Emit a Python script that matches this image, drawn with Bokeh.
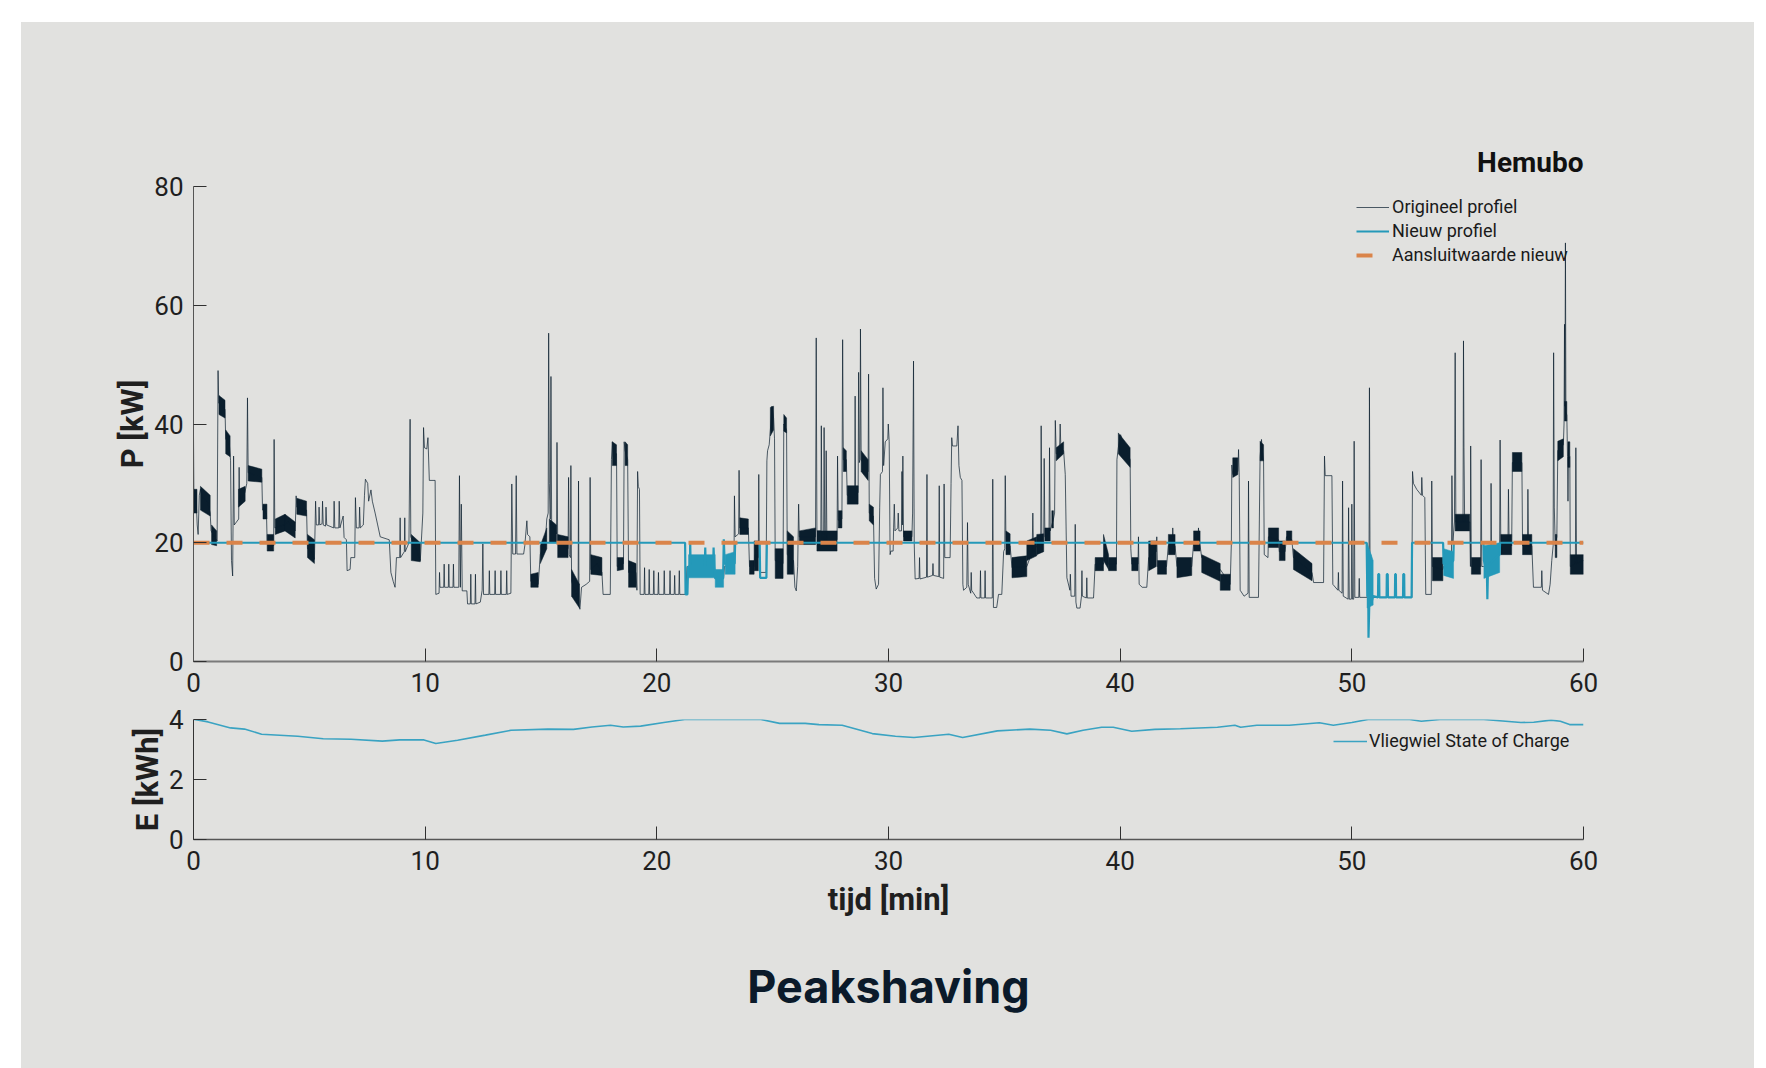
from bokeh.plotting import figure
from bokeh.models import Range1d, FixedTicker, Legend, LegendItem, Title
from bokeh.layouts import column
from bokeh.embed import file_html
from bokeh.resources import INLINE

# ---------------- data ----------------
x_ticks = [0, 10, 20, 30, 40, 50, 60]
p_ticks = [0, 20, 40, 60, 80]
e_ticks = [0, 2, 4]

# Original profile (t [min], P [kW])
orig_q1 = [
    (0.00, 38.0), (0.02, 26.0), (0.10, 28.5), (0.16, 23.0), (0.20, 21.4), (0.25, 28.0), (0.30, 29.0),
    (0.40, 27.5), (0.60, 27.0), (0.72, 25.0), (0.76, 22.0), (0.90, 21.0), (1.02, 20.3), (1.06, 49.0),
    (1.09, 43.5), (1.36, 42.5), (1.39, 37.5), (1.55, 36.5), (1.60, 33.8), (1.64, 17.0), (1.69, 14.4),
    (1.73, 34.6), (1.76, 23.0), (1.95, 24.0), (1.97, 32.7), (1.99, 27.0), (2.22, 28.5), (2.30, 30.0),
    (2.33, 44.4), (2.36, 31.8), (2.95, 31.0), (2.98, 25.5), (3.15, 25.0), (3.18, 20.0), (3.46, 19.5),
    (3.48, 37.4), (3.51, 22.5), (3.90, 23.0), (4.10, 23.5), (4.39, 22.0), (4.43, 27.9), (4.46, 26.0),
    (4.88, 25.5), (4.92, 19.0), (5.10, 18.5), (5.22, 17.2), (5.25, 23.0), (5.27, 27.0), (5.30, 23.0),
    (5.40, 23.0), (5.42, 26.0), (5.45, 23.0), (5.55, 23.2), (5.57, 27.0), (5.60, 23.0), (5.70, 22.8),
    (5.72, 26.0), (5.75, 23.0), (6.05, 22.5), (6.07, 27.0), (6.10, 22.5), (6.27, 22.5), (6.29, 27.0),
    (6.32, 22.5), (6.46, 24.5), (6.50, 20.9), (6.60, 20.5), (6.63, 15.3), (6.76, 15.5), (6.79, 17.5),
    (6.96, 17.5), (6.99, 27.6), (7.03, 22.5), (7.15, 22.5), (7.17, 26.0), (7.20, 22.5), (7.33, 23.0),
    (7.38, 28.0), (7.42, 30.7), (7.52, 30.0), (7.56, 27.0), (7.66, 28.9), (7.72, 27.0), (7.84, 25.0),
    (7.95, 23.0), (8.06, 21.0), (8.45, 20.5), (8.52, 15.0), (8.62, 13.5), (8.70, 12.5), (8.76, 17.5),
    (8.90, 17.5), (8.92, 24.2), (8.94, 17.5), (9.10, 18.5), (9.12, 24.2), (9.14, 18.5), (9.30, 20.0),
    (9.35, 40.8), (9.38, 21.0), (9.60, 19.0), (9.79, 17.0), (9.90, 25.0), (9.93, 39.4), (9.97, 36.0),
    (10.07, 35.8), (10.12, 37.7), (10.18, 30.5), (10.43, 30.5), (10.46, 11.3), (10.60, 11.5),
    (10.62, 15.0), (10.64, 12.5), (10.80, 12.5), (10.82, 16.4), (10.84, 12.5), (11.00, 12.5),
    (11.02, 16.4), (11.04, 12.5), (11.20, 12.5), (11.22, 16.4), (11.24, 12.5), (11.45, 12.5),
    (11.48, 31.3), (11.52, 12.5), (11.56, 26.5), (11.60, 11.9), (11.80, 11.9), (11.83, 9.7),
    (11.95, 9.7), (11.97, 14.7), (11.99, 9.7), (12.15, 9.7), (12.17, 14.7), (12.19, 9.7),
    (12.38, 10.0), (12.46, 12.0), (12.49, 19.8), (12.52, 11.3), (12.75, 11.3), (12.77, 15.3),
    (12.79, 11.3), (13.00, 11.3), (13.02, 15.3), (13.04, 11.3), (13.25, 11.3), (13.27, 15.3),
    (13.29, 11.3), (13.50, 11.3), (13.52, 15.3), (13.54, 11.3), (13.70, 11.5), (13.74, 29.9),
    (13.78, 18.1), (13.90, 18.1), (13.93, 31.3), (13.96, 18.1), (14.25, 18.1), (14.30, 19.5),
    (14.39, 23.7), (14.42, 21.4), (14.52, 21.0), (14.56, 13.5), (14.88, 13.0), (14.97, 18.0),
    (15.10, 19.5), (15.20, 21.0),
]
orig_q2 = [
    (15.25, 24.0), (15.31, 25.0), (15.33, 55.3), (15.36, 30.0), (15.40, 24.0), (15.43, 48.0),
    (15.46, 23.0), (15.67, 21.5), (15.69, 36.9), (15.72, 20.0), (16.17, 19.0), (16.19, 31.0),
    (16.22, 18.0), (16.27, 17.5), (16.29, 33.0), (16.32, 13.5), (16.50, 11.5), (16.60, 10.0),
    (16.62, 30.4), (16.64, 9.5), (16.68, 8.8), (16.75, 12.5), (16.95, 13.0), (17.10, 13.5),
    (17.12, 31.0), (17.15, 15.5), (17.40, 16.5), (17.63, 15.0), (17.68, 11.3), (17.99, 11.3),
    (18.04, 34.0), (18.08, 37.0), (18.12, 34.5), (18.26, 35.0), (18.29, 16.0), (18.56, 16.5),
    (18.59, 37.0), (18.63, 35.5), (18.74, 34.0), (18.78, 15.0), (19.10, 15.0), (19.14, 12.0),
    (19.17, 32.0), (19.20, 29.5), (19.25, 29.0), (19.28, 11.3), (19.45, 11.3), (19.47, 15.8),
    (19.49, 11.3), (19.65, 11.3), (19.67, 15.5), (19.69, 11.3), (19.85, 11.3), (19.87, 15.3),
    (19.89, 11.3), (20.05, 11.3), (20.07, 15.0), (20.09, 11.3), (20.30, 11.3), (20.32, 15.3),
    (20.34, 11.3), (20.55, 11.3), (20.57, 15.3), (20.59, 11.3), (20.75, 11.3), (20.77, 14.5),
    (20.79, 11.3), (20.95, 11.3), (20.97, 15.3), (20.99, 11.3), (21.25, 11.3), (21.30, 16.0),
    (22.48, 16.0), (22.52, 14.0), (22.88, 14.0), (22.92, 16.0), (23.33, 16.5), (23.35, 27.9),
    (23.38, 21.0), (23.53, 21.5), (23.55, 32.2), (23.58, 22.5), (23.95, 22.5), (24.00, 16.0),
    (24.20, 16.0), (24.25, 18.0), (24.38, 17.5), (24.40, 31.5), (24.43, 15.0), (24.72, 15.0),
    (24.75, 33.8), (24.78, 35.5), (24.85, 36.5), (24.92, 40.0), (24.97, 43.0), (25.04, 41.0),
    (25.08, 37.5), (25.11, 17.0), (25.45, 16.5), (25.48, 40.0), (25.60, 39.0), (25.63, 18.0),
    (25.90, 17.0), (25.96, 12.5), (26.02, 11.9), (26.08, 16.0), (26.12, 26.5), (26.15, 21.0),
    (26.85, 21.0), (26.88, 54.5), (26.91, 22.0), (27.08, 22.0), (27.10, 39.7), (27.13, 20.5),
    (27.20, 20.5), (27.22, 39.4), (27.25, 20.5), (27.29, 20.5), (27.31, 35.5), (27.34, 20.5),
    (27.78, 20.5), (27.80, 34.6), (27.83, 23.8), (27.99, 24.0), (28.02, 54.2), (28.05, 34.0),
    (28.18, 34.0), (28.22, 28.0), (28.54, 27.5), (28.56, 44.7), (28.58, 28.0), (28.69, 28.5),
    (28.71, 48.7), (28.74, 33.5), (28.77, 34.0), (28.79, 56.0), (28.82, 34.0), (29.12, 32.0),
    (29.14, 48.4), (29.17, 25.0), (29.35, 24.5), (29.40, 14.0), (29.47, 12.2), (29.57, 13.0),
    (29.62, 26.0), (29.65, 31.5), (29.74, 32.0), (29.76, 46.1), (29.79, 33.0), (29.86, 37.0),
    (29.97, 37.5), (29.99, 40.0), (30.03, 37.0), (30.07, 18.0),
]
orig_q3 = [
    (30.10, 18.6), (30.20, 18.6), (30.22, 22.5), (30.25, 26.5), (30.28, 22.0), (30.40, 22.5),
    (30.42, 25.0), (30.45, 22.0), (30.56, 22.0), (30.58, 32.0), (30.60, 23.0), (30.62, 34.6),
    (30.65, 21.0), (31.01, 21.0), (31.04, 25.0), (31.08, 50.6), (31.11, 20.0), (31.15, 13.9),
    (31.32, 14.0), (31.34, 17.5), (31.36, 13.9), (31.64, 14.2), (31.66, 31.5), (31.68, 14.2),
    (31.90, 14.5), (31.92, 16.5), (31.94, 14.5), (32.17, 14.3), (32.19, 29.6), (32.21, 14.2),
    (32.38, 14.0), (32.40, 29.9), (32.43, 17.5), (32.66, 17.5), (32.70, 30.0), (32.73, 37.7),
    (32.76, 36.3), (32.95, 36.3), (33.00, 39.7), (33.04, 33.0), (33.10, 31.0), (33.17, 30.5),
    (33.21, 13.0), (33.24, 12.0), (33.38, 12.5), (33.41, 23.4), (33.44, 13.0), (33.55, 11.5),
    (33.57, 15.0), (33.59, 12.0), (33.81, 10.7), (33.95, 10.7), (33.97, 15.3), (33.99, 10.7),
    (34.15, 10.7), (34.17, 15.3), (34.19, 10.7), (34.35, 10.7), (34.48, 10.7), (34.50, 30.7),
    (34.53, 9.1), (34.67, 9.1), (34.75, 11.3), (34.89, 11.3), (34.97, 18.5), (35.02, 19.0),
    (35.04, 31.3), (35.07, 20.0), (35.25, 19.5), (35.33, 15.8), (35.97, 16.0), (36.20, 18.5),
    (36.23, 25.0), (36.26, 18.5), (36.40, 19.5), (36.57, 20.0), (36.59, 39.7), (36.62, 20.0),
    (36.70, 20.0), (36.72, 34.2), (36.75, 21.0), (36.93, 21.5), (36.95, 36.0), (36.98, 22.0),
    (37.12, 24.0), (37.17, 25.0), (37.20, 40.6), (37.24, 35.0), (37.38, 35.0), (37.41, 40.0),
    (37.44, 36.0), (37.56, 35.5), (37.63, 31.5), (37.70, 14.1), (37.83, 12.0), (37.85, 14.7),
    (37.88, 11.0), (38.04, 11.0), (38.06, 23.1), (38.09, 10.0), (38.13, 9.0), (38.27, 9.0),
    (38.33, 11.0), (38.35, 15.3), (38.37, 11.0), (38.54, 10.7), (38.56, 14.1), (38.58, 10.7),
    (38.85, 10.7), (38.92, 16.4), (39.28, 16.4), (39.36, 19.5), (39.43, 18.5), (39.50, 16.4),
    (39.84, 16.4), (39.86, 34.0), (39.92, 36.0), (40.02, 38.2), (40.15, 36.5), (40.43, 34.0),
    (40.46, 19.0), (40.50, 16.4), (40.77, 16.4), (40.79, 21.0), (40.82, 13.0), (40.95, 12.5),
    (41.15, 12.5), (41.23, 17.5), (41.56, 18.5), (41.58, 21.0), (41.61, 16.0), (42.00, 16.0),
    (42.08, 19.5), (42.25, 20.0), (42.27, 22.5), (42.30, 19.5), (42.37, 19.5), (42.45, 16.0),
    (43.09, 16.0), (43.17, 20.0), (43.36, 20.0), (43.38, 22.5), (43.41, 20.0), (43.45, 19.5),
    (43.52, 17.5), (44.32, 15.5), (44.75, 13.0), (44.80, 20.0), (44.82, 33.1), (44.86, 31.5),
    (45.08, 32.0), (45.11, 35.7), (45.14, 31.0), (45.18, 12.0),
]
orig_q4 = [
    (45.35, 11.0), (45.52, 11.5), (45.54, 30.4), (45.57, 10.8), (45.97, 10.8), (46.04, 34.5),
    (46.10, 37.4), (46.15, 35.0), (46.19, 33.8), (46.22, 18.0), (46.38, 17.5), (46.40, 21.0),
    (46.84, 20.5), (46.87, 18.5), (47.12, 18.5), (47.18, 21.0), (47.41, 20.5), (47.48, 17.5),
    (48.28, 15.0), (48.35, 13.3), (48.78, 13.3), (48.82, 34.6), (48.85, 31.3), (49.14, 31.3),
    (49.18, 13.0), (49.40, 12.0), (49.42, 15.0), (49.44, 12.0), (49.58, 11.5), (49.60, 30.4),
    (49.63, 11.0), (49.84, 10.5), (49.86, 25.9), (49.89, 10.5), (49.98, 10.5), (50.00, 26.5),
    (50.03, 10.5), (50.08, 10.5), (50.10, 37.1), (50.13, 10.8), (50.30, 10.8), (50.32, 14.0),
    (50.34, 10.8), (50.65, 10.8), (50.74, 12.0), (50.76, 46.1), (50.79, 10.8), (52.59, 10.8),
    (52.62, 32.0), (52.66, 30.0), (52.80, 29.0), (53.00, 28.0), (53.02, 31.0), (53.05, 28.0),
    (53.15, 27.6), (53.19, 11.3), (53.43, 11.3), (53.45, 30.4), (53.48, 16.0), (53.93, 15.5),
    (53.96, 16.0), (54.30, 16.5), (54.32, 31.3), (54.36, 20.0), (54.43, 23.5), (54.46, 52.0),
    (54.49, 23.5), (54.80, 23.5), (54.82, 54.0), (54.84, 36.0), (54.87, 23.5), (55.09, 23.5),
    (55.12, 16.0), (55.13, 36.3), (55.16, 16.0), (55.56, 16.0), (55.58, 34.0), (55.61, 16.0),
    (55.68, 16.0), (56.00, 17.0), (56.01, 30.0), (56.03, 17.0), (56.38, 19.0), (56.40, 37.3),
    (56.43, 20.0), (56.74, 20.0), (56.76, 29.0), (56.79, 20.0), (56.90, 19.5), (56.93, 33.5),
    (57.34, 33.5), (57.37, 19.5), (57.58, 19.5), (57.60, 29.0), (57.63, 19.5), (57.77, 19.5),
    (57.84, 12.5), (58.18, 12.5), (58.20, 15.3), (58.23, 12.0), (58.49, 11.3), (58.56, 13.0),
    (58.63, 17.0), (58.69, 19.5), (58.71, 52.0), (58.74, 26.0), (58.78, 19.5), (58.85, 21.0),
    (58.89, 35.5), (59.13, 36.5), (59.16, 40.0), (59.18, 56.8), (59.20, 43.0), (59.22, 70.5),
    (59.24, 42.0), (59.28, 41.5), (59.31, 34.5), (59.33, 27.0), (59.35, 34.0), (59.41, 34.5),
    (59.43, 16.0), (59.65, 16.5), (59.67, 36.0), (59.70, 16.5), (60.00, 17.0),
]

# Dense noise bands of the original profile: (t0, t1, low0, high0, low1, high1)
orig_bands = [
    (0.02, 0.15, 25.0, 29.0, 25.0, 29.0), (0.30, 0.72, 25.5, 29.5, 24.5, 28.0),
    (0.78, 1.00, 19.7, 23.0, 19.5, 22.0), (1.10, 1.36, 41.6, 44.8, 41.0, 44.0),
    (1.39, 1.58, 35.0, 39.0, 34.5, 38.0), (1.94, 2.23, 26.0, 29.0, 27.0, 29.5),
    (2.36, 2.95, 30.4, 33.0, 30.2, 32.4), (3.00, 3.17, 24.0, 26.5, 24.0, 26.5),
    (3.18, 3.46, 18.6, 21.4, 18.6, 21.4), (3.53, 3.95, 21.4, 24.0, 22.0, 24.8),
    (3.95, 4.39, 22.0, 24.8, 20.8, 23.5), (4.46, 4.88, 24.8, 27.5, 24.5, 27.0),
    (4.92, 5.22, 17.5, 21.4, 16.5, 20.5), (9.40, 9.79, 17.0, 21.4, 16.8, 20.0),
    (14.56, 14.88, 12.5, 14.7, 12.5, 15.0), (14.97, 15.25, 16.5, 19.5, 19.0, 22.5),
    (15.36, 15.67, 20.0, 24.0, 20.0, 23.0), (15.72, 16.17, 17.5, 21.4, 17.5, 21.0),
    (16.32, 16.66, 11.0, 15.5, 9.0, 13.0), (17.15, 17.63, 14.7, 18.0, 14.5, 17.5),
    (18.08, 18.26, 33.0, 37.0, 33.0, 36.5), (18.29, 18.56, 15.3, 17.5, 15.5, 17.5),
    (18.63, 18.74, 33.0, 37.0, 33.0, 36.5), (18.78, 19.10, 12.5, 17.0, 12.5, 16.5),
    (23.58, 23.95, 21.4, 24.2, 21.4, 24.0), (24.00, 24.20, 14.7, 17.0, 14.7, 17.0),
    (24.20, 24.38, 15.3, 20.3, 15.3, 20.3), (24.90, 25.04, 38.0, 42.8, 39.0, 43.0),
    (25.11, 25.45, 14.0, 19.0, 14.0, 19.0), (25.48, 25.60, 38.8, 41.6, 38.5, 41.0),
    (25.63, 25.90, 14.7, 22.0, 14.7, 21.0), (26.15, 26.85, 19.7, 22.0, 19.7, 22.5),
    (26.91, 27.78, 18.6, 22.0, 18.6, 22.0), (27.83, 27.99, 22.5, 25.4, 22.5, 25.4),
    (28.05, 28.18, 32.0, 36.0, 32.0, 35.5), (28.22, 28.69, 26.5, 29.6, 26.5, 29.6),
    (28.82, 29.12, 32.0, 35.5, 30.5, 34.0), (29.17, 29.35, 23.7, 26.5, 23.0, 26.0),
    (30.65, 31.01, 20.3, 22.0, 20.3, 22.0), (35.07, 35.25, 18.0, 22.0, 18.0, 21.5),
    (35.33, 35.97, 14.1, 17.5, 14.3, 17.8), (35.97, 36.40, 17.0, 20.3, 17.8, 21.0),
    (36.40, 36.70, 18.0, 21.4, 18.5, 21.5), (36.75, 36.98, 20.3, 22.5, 20.3, 22.5),
    (37.05, 37.12, 22.5, 25.4, 22.5, 25.4), (37.24, 37.56, 33.8, 36.0, 35.0, 37.0),
    (38.92, 39.28, 15.3, 17.5, 15.3, 17.5), (39.28, 39.50, 17.0, 21.4, 15.5, 18.0),
    (39.50, 39.84, 15.3, 17.5, 15.3, 17.5), (39.92, 40.43, 35.0, 38.5, 32.7, 36.0),
    (40.50, 40.77, 15.3, 17.5, 15.3, 17.5), (41.23, 41.56, 15.3, 20.3, 16.0, 20.3),
    (41.61, 42.00, 14.7, 17.0, 14.7, 17.0), (42.08, 42.37, 18.0, 21.4, 18.0, 21.4),
    (42.45, 43.09, 14.1, 17.5, 14.5, 17.5), (43.17, 43.45, 18.6, 22.0, 18.6, 22.0),
    (43.52, 44.32, 15.0, 18.0, 13.5, 16.5), (44.32, 44.75, 12.0, 14.7, 12.0, 14.7),
    (44.86, 45.08, 31.0, 34.3, 31.5, 34.3), (46.04, 46.19, 33.8, 37.1, 33.8, 36.5),
    (46.40, 46.84, 19.2, 22.5, 19.2, 22.5), (46.87, 47.12, 17.0, 20.3, 17.0, 20.3),
    (47.18, 47.41, 19.8, 22.0, 19.8, 22.0), (47.48, 48.28, 15.5, 19.0, 13.6, 16.5),
    (53.48, 53.93, 13.6, 17.5, 13.6, 17.5), (54.46, 55.09, 22.0, 24.8, 22.0, 24.8),
    (55.16, 55.56, 14.7, 17.5, 14.7, 17.5), (56.43, 56.90, 18.0, 21.4, 18.0, 21.4),
    (56.93, 57.34, 32.0, 35.2, 32.0, 35.2), (57.37, 57.77, 18.0, 21.4, 18.0, 21.4),
    (58.78, 58.85, 17.5, 21.4, 17.5, 21.4), (58.89, 59.13, 33.8, 37.1, 34.5, 37.5),
    (59.18, 59.28, 40.5, 43.8, 40.5, 43.8), (59.33, 59.41, 32.7, 37.0, 32.7, 37.0),
    (59.43, 60.00, 14.7, 18.0, 14.7, 18.0),
]

# New profile (t, P)
new_profile = [
    (0.00, 20.0), (21.22, 20.0), (21.24, 11.3), (21.32, 11.3), (21.35, 16.0), (21.43, 16.0),
    (21.44, 20.3), (21.46, 16.0), (22.07, 16.0), (22.09, 19.2), (22.11, 16.0), (22.43, 16.0),
    (22.45, 19.2), (22.48, 16.0), (22.52, 14.0), (22.86, 14.0), (22.89, 20.6), (22.93, 16.5),
    (23.36, 16.5), (23.38, 20.0), (24.44, 20.0), (24.46, 14.1), (24.73, 14.1), (24.75, 20.0),
    (50.64, 20.0), (50.67, 11.0), (50.70, 17.0), (50.72, 4.0), (50.75, 9.0), (50.80, 18.0),
    (50.85, 10.0), (50.92, 11.0), (51.13, 10.8), (51.14, 14.7), (51.18, 14.7), (51.19, 10.8),
    (51.50, 10.8), (51.51, 14.7), (51.55, 14.7), (51.56, 10.8), (51.86, 10.8), (51.87, 14.7),
    (51.90, 14.7), (51.91, 10.8), (52.21, 10.8), (52.22, 14.7), (52.26, 14.7), (52.27, 10.8),
    (52.58, 10.8), (52.60, 20.0), (53.94, 20.0), (53.96, 16.5), (54.15, 16.0), (54.38, 17.0),
    (54.40, 20.0), (55.68, 20.0), (55.70, 17.0), (55.83, 15.0), (55.85, 10.5), (55.88, 16.0),
    (56.20, 17.5), (56.38, 18.0), (56.40, 20.0), (60.00, 20.0),
]
new_bands = [
    (21.37, 22.52, 14.1, 18.0, 14.1, 18.0), (22.52, 22.88, 12.5, 15.5, 12.5, 15.5),
    (22.95, 23.38, 14.7, 18.0, 14.7, 18.5), (50.66, 50.92, 9.0, 20.0, 9.5, 17.0),
    (53.96, 54.39, 14.5, 19.0, 14.0, 18.5), (55.70, 56.38, 14.0, 19.5, 15.0, 20.0),
]

aansluit_t = [0, 60]
aansluit_p = [20, 20]

# Flywheel state of charge (t, E [kWh])
soc_t = [0.0, 0.05, 0.63, 1.6, 2.2, 2.94, 4.5, 5.6, 6.8, 8.15, 8.9, 9.95, 10.46, 11.4, 12.6, 13.7,
         15.3, 16.4, 17.2, 18.0, 18.55, 19.3, 20.3, 21.2, 24.5, 25.3, 26.4, 27.0, 28.0, 29.3, 30.3,
         31.1, 32.6, 33.2, 34.7, 36.1, 37.0, 37.7, 38.4, 39.2, 39.7, 40.5, 41.5, 42.6, 44.2, 44.95,
         45.2, 45.9, 47.3, 48.6, 49.2, 50.0, 50.7, 52.5, 53.0, 53.8, 55.7, 57.3, 57.85, 58.6, 59.0,
         59.4, 60.0]
soc_e = [4.0, 4.0, 3.92, 3.72, 3.68, 3.51, 3.44, 3.36, 3.34, 3.28, 3.32, 3.32, 3.2, 3.31, 3.48, 3.64,
         3.68, 3.67, 3.75, 3.81, 3.75, 3.78, 3.9, 4.0, 4.0, 3.87, 3.87, 3.83, 3.81, 3.53, 3.44,
         3.4, 3.51, 3.4, 3.62, 3.68, 3.64, 3.52, 3.64, 3.74, 3.74, 3.61, 3.67, 3.69, 3.74, 3.81,
         3.74, 3.81, 3.81, 3.89, 3.81, 3.9, 4.0, 4.0, 3.94, 4.0, 4.0, 3.9, 3.91, 3.98, 3.94,
         3.83, 3.83]

# ---------------- styling ----------------
BG = "#e1e1df"
NAVY = "#0a1e2d"
TEAL = "#2499b9"
ORANGE = "#da844a"
FONT = "Roboto"

orig = orig_q1 + orig_q2 + orig_q3 + orig_q4
orig_t = [a for a, _ in orig]
orig_p = [b for _, b in orig]
new_t = [a for a, _ in new_profile]
new_p = [b for _, b in new_profile]


def band_patches(bands):
    xs = [[b[0], b[1], b[1], b[0]] for b in bands]
    ys = [[b[2], b[4], b[5], b[3]] for b in bands]
    return xs, ys


def style_axes(fig, yticks, xlabel, ylabel, xline_color, xline_w, yline_color):
    fig.xgrid.visible = False
    fig.ygrid.visible = False
    fig.xaxis.ticker = FixedTicker(ticks=x_ticks)
    fig.yaxis.ticker = FixedTicker(ticks=yticks)
    for ax in (fig.xaxis[0], fig.yaxis[0]):
        ax.major_tick_in = 13
        ax.major_tick_out = 0
        ax.minor_tick_line_color = None
        ax.major_tick_line_color = "#303030"
        ax.major_label_text_font = FONT
        ax.major_label_text_font_size = "26px"
        ax.major_label_text_color = "#1f1f1f"
        ax.axis_label_text_font = FONT
        ax.axis_label_text_font_size = "31px"
        ax.axis_label_text_font_style = "bold"
        ax.axis_label_text_color = "#1f1f1f"
    fig.xaxis.axis_line_color = xline_color
    fig.xaxis.axis_line_width = xline_w
    fig.yaxis.axis_line_color = yline_color
    fig.yaxis.axis_line_width = 1
    fig.xaxis.major_label_standoff = 11
    fig.yaxis.major_label_standoff = 10
    if xlabel:
        fig.xaxis.axis_label = xlabel
        fig.xaxis.axis_label_standoff = 8
    if ylabel:
        fig.yaxis.axis_label = ylabel
        fig.yaxis.axis_label_standoff = 0


# ---------------- top figure ----------------
top = figure(width=1733, height=683, title=None, x_range=Range1d(0, 60), y_range=Range1d(0, 80),
             output_backend="svg", toolbar_location=None,
             min_border_left=172, min_border_right=171, min_border_top=164, min_border_bottom=44,
             background_fill_color=None, border_fill_color=BG, outline_line_color=None)
style_axes(top, p_ticks, None, "P [kW]", "#7a7a7a", 2, "#555555")

bx, by = band_patches(orig_bands)
top.patches(bx, by, fill_color=NAVY, line_color=NAVY, line_width=0.5)
r_orig = top.line(orig_t, orig_p, line_color=NAVY, line_width=1.0, line_alpha=0.7)

nbx, nby = band_patches(new_bands)
top.patches(nbx, nby, fill_color=TEAL, line_color=TEAL, line_width=0.5)
r_new = top.line(new_t, new_p, line_color=TEAL, line_width=2.2)

r_aan = top.line(aansluit_t, aansluit_p, line_color=ORANGE, line_width=4, line_dash="16 17")

legend = Legend(items=[LegendItem(label="Origineel profiel", renderers=[r_orig]),
                       LegendItem(label="Nieuw profiel", renderers=[r_new]),
                       LegendItem(label="Aansluitwaarde nieuw", renderers=[r_aan])],
                location=(1163, 396), padding=0, margin=0, spacing=3,
                glyph_width=33, glyph_height=20, label_height=20, label_standoff=3,
                label_text_font=FONT, label_text_font_size="18px", label_text_color="#1a1a1a",
                border_line_color=None, background_fill_alpha=0)
top.add_layout(legend)

top.add_layout(Title(text="Hemubo", align="right", text_font=FONT, text_font_size="28px",
                     text_font_style="bold", text_color="#111111", standoff=15), "above")

# ---------------- bottom figure ----------------
bot = figure(width=1733, height=363, title=None, x_range=Range1d(0, 60), y_range=Range1d(0, 4),
             output_backend="svg", toolbar_location=None,
             min_border_left=172, min_border_right=171, min_border_top=14, min_border_bottom=229,
             background_fill_color=None, border_fill_color=BG, outline_line_color=None)
style_axes(bot, e_ticks, "tijd [min]", "E [kWh]", "#555555", 1.5, "#333333")

r_soc = bot.line(soc_t, soc_e, line_color="#3aa3c2", line_width=1.6)
legend2 = Legend(items=[LegendItem(label="Vliegwiel State of Charge", renderers=[r_soc])],
                 location=(1140, 88), padding=0, margin=0,
                 glyph_width=34, glyph_height=20, label_height=20, label_standoff=2,
                 label_text_font=FONT, label_text_font_size="18px", label_text_color="#1a1a1a",
                 border_line_color=None, background_fill_alpha=0)
bot.add_layout(legend2)

bot.add_layout(Title(text="Peakshaving", align="center", text_font="Inter", text_font_size="45px",
                     text_font_style="bold", text_color="#0b1a2a", standoff=73), "below")

layout = column(top, bot, spacing=0, margin=(22, 12, 0, 21), styles={"background-color": BG})
open("out.html", "w").write(file_html(layout, INLINE))
